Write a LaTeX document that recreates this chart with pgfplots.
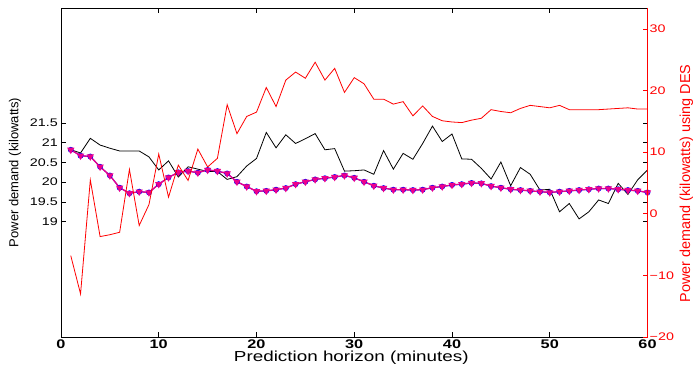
\documentclass[border=0pt]{standalone}
\usepackage{pgfplots}
\pgfplotsset{compat=1.18}
\usepackage{pgfplotstable}
\usepackage{fontspec}
\setmainfont{Liberation Sans}[FakeStretch=1.3]
\newfontfamily\rotfont{Liberation Sans}

\pgfplotstableread{
m actual smooth
1 20.82 20.82
2 20.74 20.67
3 21.11 20.65
4 20.94 20.39
5 20.86 20.17
6 20.79 19.86
7 20.79 19.72
8 20.79 19.76
9 20.64 19.74
10 20.31 19.95
11 20.54 20.12
12 20.13 20.25
13 20.39 20.28
14 20.33 20.24
15 20.27 20.31
16 20.27 20.28
17 20.07 20.22
18 20.14 20.01
19 20.41 19.89
20 20.60 19.77
21 21.26 19.78
22 20.87 19.81
23 21.20 19.85
24 20.98 19.95
25 21.10 20.01
26 21.23 20.07
27 20.82 20.10
28 20.85 20.13
29 20.28 20.17
30 20.29 20.11
31 20.31 20.01
32 20.20 19.91
33 20.80 19.85
34 20.33 19.81
35 20.73 19.81
36 20.58 19.80
37 20.98 19.81
38 21.42 19.86
39 21.03 19.89
40 21.22 19.93
41 20.59 19.95
42 20.58 19.98
43 20.35 19.97
44 20.08 19.90
45 20.51 19.86
46 19.91 19.82
47 20.37 19.80
48 20.20 19.78
49 19.80 19.76
50 19.82 19.74
51 19.25 19.76
52 19.46 19.78
53 19.07 19.80
54 19.25 19.82
55 19.55 19.84
56 19.46 19.84
57 19.97 19.82
58 19.69 19.80
59 20.06 19.78
60 20.31 19.74
}\leftdata

\pgfplotstableread{
m des
1 -6.8
2 -13.0
3 5.5
4 -3.7
5 -3.4
6 -3.0
7 7.2
8 -1.9
9 1.5
10 9.7
11 2.7
12 7.9
13 5.4
14 10.5
15 7.6
16 9.0
17 17.7
18 13.0
19 15.8
20 16.5
21 20.5
22 17.4
23 21.7
24 23.0
25 22.0
26 24.6
27 21.7
28 23.6
29 19.7
30 22.1
31 21.1
32 18.6
33 18.6
34 17.8
35 18.2
36 15.9
37 17.5
38 15.8
39 15.1
40 14.9
41 14.8
42 15.2
43 15.5
44 16.9
45 16.6
46 16.4
47 17.1
48 17.6
49 17.4
50 17.2
51 17.6
52 16.9
53 16.9
54 16.9
55 16.9
56 17.0
57 17.1
58 17.2
59 17.0
60 17.0
}\desdata

\begin{document}
\begin{tikzpicture}
\path[use as bounding box] (-61pt,-31pt) rectangle (637pt,337pt);
\begin{axis}[
  width=586.5pt, height=329pt, scale only axis,
  xmin=0, xmax=60, ymin=16.08, ymax=24.41,
  xtick={0,10,...,60}, ytick={19,19.5,20,20.5,21,21.5},
  tick align=inside, major tick length=5pt,
  axis line style={line width=0.9pt},
  tick style={line width=0.6pt, black},
  /pgf/number format/assume math mode=true,
  xticklabel style={font=\fontsize{12.5}{12.5}\selectfont\bfseries, inner sep=0pt, anchor=north, yshift=-2.5pt},
  yticklabel style={font=\fontsize{11}{11}\selectfont, inner sep=0pt, anchor=east, xshift=-3pt},
  xlabel={Prediction horizon (minutes)},
  xlabel style={font=\fontsize{14.5}{14.5}\selectfont, at={(axis description cs:0.495,-0.0425)}, anchor=north, inner sep=0pt},
  ylabel={Power demand (kilowatts)},
  ylabel style={font=\rotfont\fontsize{13}{13}\selectfont, at={(axis description cs:-0.0784,0.5)}, anchor=center, inner sep=0pt},
]
\addplot[black, line width=0.8pt] table[x=m, y=actual] {\leftdata};
\addplot[blue, line width=1pt, mark=*, mark size=2.4pt, mark options={fill=blue}] table[x=m, y=smooth] {\leftdata};
\addplot[magenta, line width=1.3pt, mark=triangle*, mark size=3pt, mark options={fill=magenta, rotate=180}] table[x=m, y=smooth] {\leftdata};
\end{axis}
\begin{axis}[
  width=586.5pt, height=329pt, scale only axis,
  xmin=0, xmax=60, ymin=-20, ymax=33.4,
  axis x line=none, axis y line*=right,
  axis line style={-},
  y axis line style={-, red, line width=0.9pt},
  tick align=inside, major tick length=5pt,
  ytick={-20,-10,0,10,20,30},
  yticklabels={−20,−10,0,10,20,30},
  ytick style={red, line width=0.6pt},
  yticklabel style={red, font=\fontsize{11}{11}\selectfont, inner sep=0pt, anchor=west, xshift=2pt},
  ylabel={Power demand (kilowatts) using DES},
  ylabel style={red, font=\rotfont\fontsize{14.4}{14.4}\selectfont, at={(axis description cs:1.0664,0.467)}, anchor=center, inner sep=0pt},
]
\addplot[red, line width=0.8pt] table[x=m, y=des] {\desdata};
\end{axis}
\end{tikzpicture}
\end{document}
